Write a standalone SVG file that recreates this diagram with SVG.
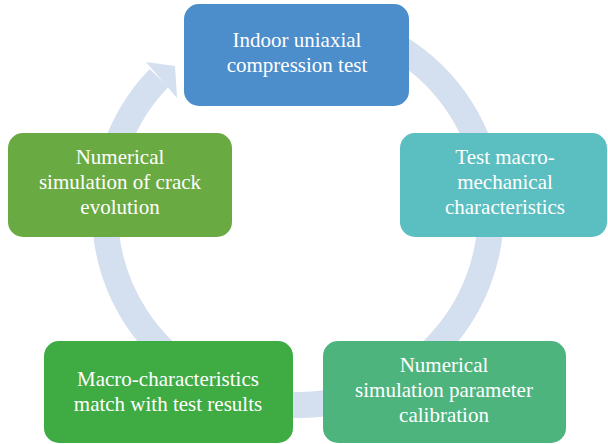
<svg xmlns="http://www.w3.org/2000/svg" width="608" height="444" viewBox="0 0 608 444">
<style>
.t{font-family:"Liberation Serif","Times New Roman",serif;font-size:21px;fill:#ffffff;text-anchor:middle}
.ring{fill:none;stroke:#d4e0ef;stroke-width:26}
</style>
<rect width="608" height="444" fill="#ffffff"/>
<g id="connectors">
<path class="ring" d="M331.5,22 A193,193 0 1 1 159,78"/>
<polygon points="146,62 175,66 177,98" fill="#d4e0ef"/>
</g>
<g id="n1">
<rect x="184" y="4" width="225" height="102" rx="15" fill="#4c8dcb"/>
<text class="t" x="297" y="47">Indoor uniaxial</text>
<text class="t" x="297" y="72">compression test</text>
</g>
<g id="n2">
<rect x="400" y="133" width="207" height="104" rx="15" fill="#5bbec0"/>
<text class="t" x="505" y="164">Test macro-</text>
<text class="t" x="505" y="189">mechanical</text>
<text class="t" x="505" y="214">characteristics</text>
</g>
<g id="n3">
<rect x="323" y="341" width="243" height="102" rx="15" fill="#4db47e"/>
<text class="t" x="444" y="372">Numerical</text>
<text class="t" x="444" y="397">simulation parameter</text>
<text class="t" x="444" y="422">calibration</text>
</g>
<g id="n4">
<rect x="44" y="341" width="249" height="102" rx="15" fill="#3fab43"/>
<text class="t" x="168" y="386">Macro-characteristics</text>
<text class="t" x="168" y="411">match with test results</text>
</g>
<g id="n5">
<rect x="8" y="133" width="224" height="104" rx="15" fill="#6aaa42"/>
<text class="t" x="120" y="164">Numerical</text>
<text class="t" x="120" y="189">simulation of crack</text>
<text class="t" x="120" y="214">evolution</text>
</g>
</svg>
